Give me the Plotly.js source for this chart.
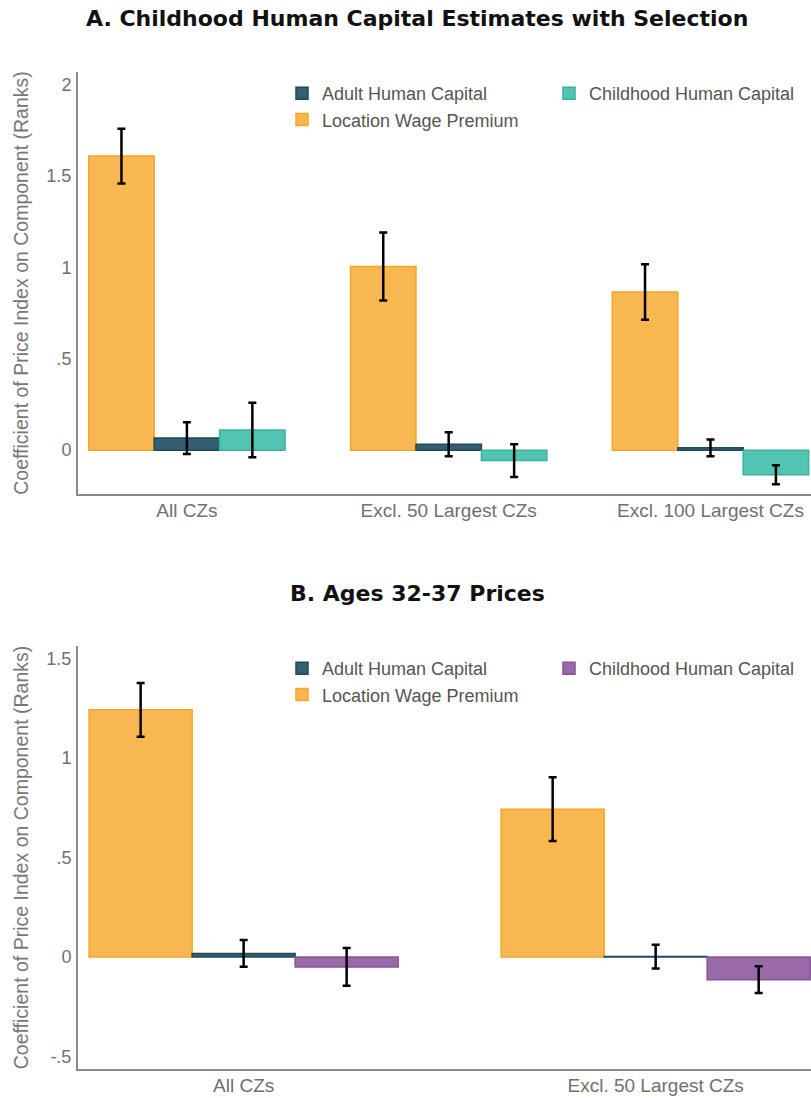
<!DOCTYPE html>
<html>
<head>
<meta charset="utf-8">
<script src="https://cdn.plot.ly/plotly-3.0.1.min.js"></script>
<style>html,body{margin:0;padding:0;background:#fff}#chart{width:811px;height:1098px}</style>
</head>
<body>
<div id="chart"></div>
<script>
// ---- Data ----
const categoriesA = ["All CZs", "Excl. 50 Largest CZs", "Excl. 100 Largest CZs"];
const wageA = [1.61, 1.005, 0.866];
const wageErrA = [0.15, 0.186, 0.152];
const adultA = [0.066, 0.032, 0.013];
const adultErrA = [0.087, 0.066, 0.046];
const childA = [0.11, -0.057, -0.135];
const childErrA = [0.149, 0.09, 0.052];

const categoriesB = ["All CZs", "Excl. 50 Largest CZs"];
const wageB = [1.242, 0.743];
const wageErrB = [0.135, 0.16];
const adultB = [0.018, 0.002];
const adultErrB = [0.067, 0.06];
const childB = [-0.05, -0.114];
const childErrB = [0.095, 0.067];

const tickValsA = [0, 0.5, 1, 1.5, 2];
const tickTextA = ["0", ".5", "1", "1.5", "2"];
const tickValsB = [-0.5, 0, 0.5, 1, 1.5];
const tickTextB = ["-.5", "0", ".5", "1", "1.5"];

const seriesNames = ["Location Wage Premium", "Adult Human Capital", "Childhood Human Capital"];

// ---- Styles ----
const cWage = {fill: "rgba(248,173,58,0.88)", line: "#f5a623"};
const cAdult = {fill: "#335f70", line: "#1f4a5b"};
const cChildA = {fill: "#52c4b3", line: "#38b3a0"};
const cChildB = {fill: "#9a6aa8", line: "#87559a"};
const errStyle = {type: "data", visible: true, color: "#000", thickness: 2.5, width: 4};
const FONT = "Liberation Sans, Arial, sans-serif";
const TFONT = "DejaVu Sans, sans-serif";

function bar(x, y, err, name, col, xa, ya, legend, rank) {
  return {
    type: "bar", x: x, y: y, name: name,
    xaxis: xa, yaxis: ya, legend: legend, legendrank: rank,
    marker: {color: col.fill, line: {color: col.line, width: 1.5}},
    error_y: Object.assign({array: err}, errStyle),
    hoverinfo: "skip"
  };
}

const data = [
  bar(categoriesA, wageA, wageErrA, seriesNames[0], cWage, "x", "y", "legend", 2),
  bar(categoriesA, adultA, adultErrA, seriesNames[1], cAdult, "x", "y", "legend", 1),
  bar(categoriesA, childA, childErrA, seriesNames[2], cChildA, "x", "y", "legend2", 1),
  bar(categoriesB, wageB, wageErrB, seriesNames[0], cWage, "x2", "y2", "legend3", 2),
  bar(categoriesB, adultB, adultErrB, seriesNames[1], cAdult, "x2", "y2", "legend3", 1),
  bar(categoriesB, childB, childErrB, seriesNames[2], cChildB, "x2", "y2", "legend4", 1)
];

const H = 1098;
const yd = (top, bottom) => [1 - bottom / H, 1 - top / H];

const axisCommon = {
  showgrid: false, zeroline: false, showline: true, linecolor: "#8a8a8a", linewidth: 2,
  ticks: "", tickfont: {family: FONT, size: 18, color: "#707070"}, fixedrange: true
};

const legendCommon = {
  orientation: "v", xanchor: "left", yanchor: "top", bgcolor: "rgba(0,0,0,0)",
  font: {family: FONT, size: 18, color: "#555"}, traceorder: "normal", itemclick: false
};

const yTitle = {text: "Coefficient of Price Index on Component (Ranks)", standoff: 13,
  font: {family: FONT, size: 19.5, color: "#777"}};

const xTickFont = {family: FONT, size: 19, color: "#707070"};

const layout = {
  width: 811, height: 1098,
  margin: {l: 78, r: 0, t: 0, b: 0},
  paper_bgcolor: "#fff", plot_bgcolor: "#fff",
  barmode: "group", bargap: 0.25, bargroupgap: 0,
  font: {family: FONT, color: "#555"},
  xaxis: Object.assign({}, axisCommon, {anchor: "y", domain: [0, 1], type: "category",
    range: [-0.416, 2.384], ticklabelstandoff: -2, tickfont: xTickFont}),
  yaxis: Object.assign({}, axisCommon, {anchor: "x", domain: yd(72, 494), range: [-0.24, 2.07],
    tickvals: tickValsA, ticktext: tickTextA, ticklabelstandoff: 1, title: yTitle}),
  xaxis2: Object.assign({}, axisCommon, {anchor: "y2", domain: [0, 1], type: "category",
    range: [-0.402, 1.377], ticklabelstandoff: -2, tickfont: xTickFont}),
  yaxis2: Object.assign({}, axisCommon, {anchor: "x2", domain: yd(646, 1069), range: [-0.563, 1.563],
    tickvals: tickValsB, ticktext: tickTextB, ticklabelstandoff: 1, title: yTitle}),
  legend: Object.assign({}, legendCommon, {x: (282 - 78) / 733, y: 1 - 75 / H}),
  legend2: Object.assign({}, legendCommon, {x: (549 - 78) / 733, y: 1 - 75 / H}),
  legend3: Object.assign({}, legendCommon, {x: (282 - 78) / 733, y: 1 - 650 / H}),
  legend4: Object.assign({}, legendCommon, {x: (549 - 78) / 733, y: 1 - 650 / H}),
  annotations: [
    {text: "<b>A. Childhood Human Capital Estimates with Selection</b>", xref: "paper", yref: "paper",
     x: (417 - 78) / 733, y: 1 - 18 / H, xanchor: "center", yanchor: "middle", showarrow: false,
     font: {family: TFONT, size: 22, color: "#111"}},
    {text: "<b>B. Ages 32-37 Prices</b>", xref: "paper", yref: "paper",
     x: (417 - 78) / 733, y: 1 - 593 / H, xanchor: "center", yanchor: "middle", showarrow: false,
     font: {family: TFONT, size: 22, color: "#111"}}
  ]
};

Plotly.newPlot("chart", data, layout, {displayModeBar: false, staticPlot: true});
</script>
</body>
</html>
